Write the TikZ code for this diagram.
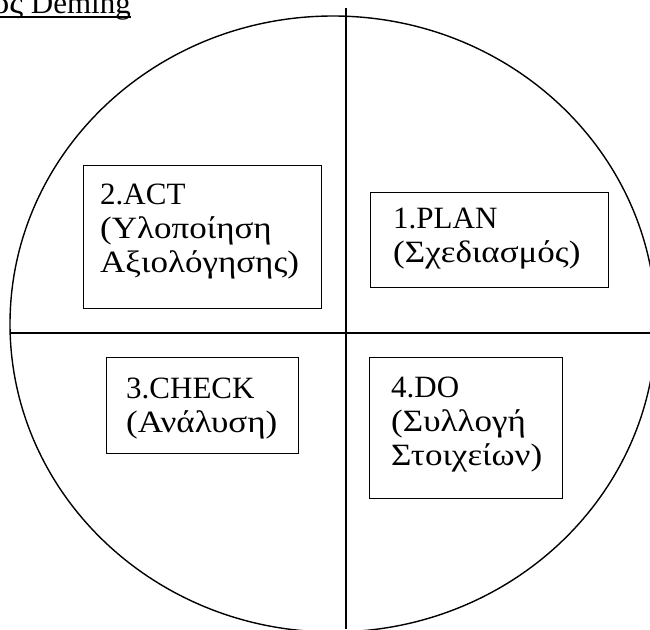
\documentclass[tikz,border=0pt]{standalone}
\usepackage{fontspec}
\setmainfont{Liberation Serif}
% Greek words are set a little wider than the Latin ones
\newfontfamily\grk[FakeStretch=1.13]{Liberation Serif}
\usetikzlibrary{calc}

\tikzset{
  outline/.style={line width=1.4pt, draw=black},
  stagebox/.style={draw=black, line width=1.3pt, inner sep=0pt, anchor=north west},
  stagetext/.style={inner sep=0pt, anchor=base west, align=left,
    font=\fontsize{31}{34}\selectfont},
  titletext/.style={inner sep=0pt, anchor=base east,
    font=\fontsize{31}{34}\selectfont}
}

\begin{document}
\begin{tikzpicture}[x=1pt, y=-1pt]
  \useasboundingbox (0,0) rectangle (650,629);

  % title, underlined
  \node[titletext] (title) at (131,13) {{\grk ος} Deming};
  \draw[line width=1.3pt] ($(title.base west)+(0,4)$) -- ($(title.base east)+(0,4)$);

  % the cycle and its two axes
  \draw[outline] (333,324) ellipse [x radius=323, y radius=308];
  \coordinate (vtop) at (346,8);
  \coordinate (vbot) at (346,629);
  \coordinate (hleft) at (10,333);
  \coordinate (hright) at (650,333);
  \draw[outline] (vtop) -- (vbot);
  \draw[outline] (hleft) -- (hright);

  % 2. ACT  (base anchor sits on the last line)
  \node[stagebox, minimum width=238, minimum height=143] (act) at (83,165) {};
  \node[stagetext] (acttext) at ($(act.north west)+(17,107)$)
    {2.ACT\\{\grk (Υλοποίηση}\\{\grk Αξιολόγησης)}};

  % 1. PLAN
  \node[stagebox, minimum width=238, minimum height=95] (plan) at (370,192) {};
  \node[stagetext] (plantext) at ($(plan.north west)+(23,70)$)
    {1.PLAN\\{\grk (Σχεδιασμός)}};

  % 3. CHECK
  \node[stagebox, minimum width=192, minimum height=96] (check) at (106,357) {};
  \node[stagetext] (checktext) at ($(check.north west)+(20,75)$)
    {3.CHECK\\{\grk (Ανάλυση)}};

  % 4. DO
  \node[stagebox, minimum width=193, minimum height=141] (do) at (369,357) {};
  \node[stagetext] (dotext) at ($(do.north west)+(22,108)$)
    {4.DO\\{\grk (Συλλογή}\\{\grk Στοιχείων)}};
\end{tikzpicture}
\end{document}
